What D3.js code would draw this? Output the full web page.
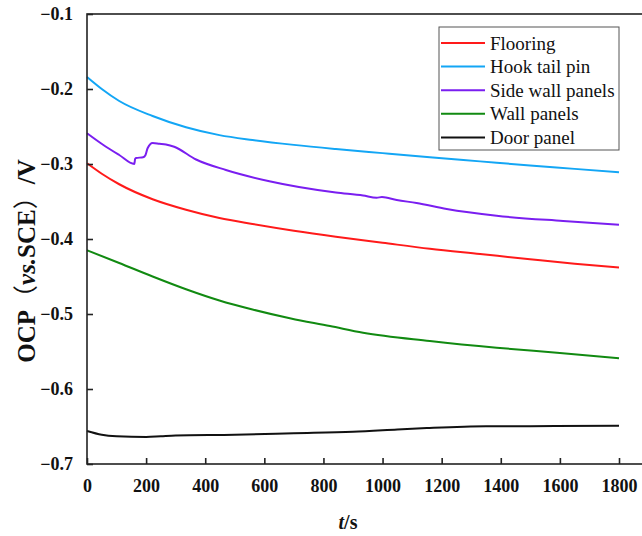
<!DOCTYPE html>
<html>
<head>
<meta charset="utf-8">
<script src="https://cdn.jsdelivr.net/npm/d3@7"></script>
<style>
  body { margin: 0; background: #fff; }
  svg text { font-family: "Liberation Serif", "Times New Roman", serif; }
</style>
</head>
<body>
<div id="chart"></div>
<script>
// series names and colours, in legend order
let seriesNames = ["Flooring", "Hook tail pin", "Side wall panels", "Wall panels", "Door panel"];
let seriesColors = ["#ff1a1a", "#13a6f5", "#7a1ef0", "#118a11", "#111111"];

// time (s) and OCP (V)
let flooringT = [0, 50, 109, 222, 335, 448, 560, 700, 842, 1000, 1160, 1330, 1499, 1650, 1800];
let flooringV = [-0.299, -0.313, -0.327, -0.347, -0.361, -0.372, -0.380, -0.389, -0.397, -0.405, -0.413, -0.420, -0.427, -0.433, -0.438];

let hookT = [0, 50, 109, 222, 335, 448, 560, 700, 842, 1000, 1160, 1330, 1499, 1650, 1800];
let hookV = [-0.184, -0.200, -0.216, -0.236, -0.251, -0.2615, -0.268, -0.2745, -0.280, -0.2855, -0.291, -0.2965, -0.302, -0.3065, -0.311];

let sideT = [0, 53, 109, 160, 163, 166, 190, 198, 205, 222, 245, 267, 295, 369, 470, 617, 842, 934, 980, 998, 1048, 1115, 1217, 1386, 1611, 1800];
let sideV = [-0.259, -0.274, -0.288, -0.300, -0.293, -0.292, -0.291, -0.288, -0.279, -0.272, -0.273, -0.274, -0.277, -0.294, -0.308, -0.323, -0.338, -0.342, -0.345, -0.344, -0.348, -0.352, -0.360, -0.369, -0.376, -0.381];

let wallT = [0, 109, 222, 335, 448, 560, 690, 822, 934, 1160, 1386, 1600, 1800];
let wallV = [-0.415, -0.432, -0.450, -0.467, -0.482, -0.494, -0.506, -0.516, -0.525, -0.536, -0.545, -0.552, -0.559];

let doorT = [0, 50, 100, 200, 250, 300, 500, 700, 900, 1050, 1150, 1350, 1500, 1800];
let doorV = [-0.656, -0.661, -0.663, -0.664, -0.663, -0.662, -0.661, -0.659, -0.657, -0.654, -0.652, -0.6495, -0.6495, -0.649];

let xTicks = [0, 200, 400, 600, 800, 1000, 1200, 1400, 1600, 1800];
let yTicks = [-0.7, -0.6, -0.5, -0.4, -0.3, -0.2, -0.1];

let seriesT = [flooringT, hookT, sideT, wallT, doorT];
let seriesV = [flooringV, hookV, sideV, wallV, doorV];

let W = 642, H = 536;
let plotLeft = 87, plotTop = 14, plotBottom = 464;

let svg = d3.select("#chart").append("svg")
    .attr("width", W).attr("height", H);

// x runs past the picture edge, so the right spine is cut off
let xScale = d3.scaleLinear().domain([0, 1900]).range([plotLeft, plotLeft + 1900 * (532 / 1800)]);
let yScale = d3.scaleLinear().domain([-0.7, -0.1]).range([plotBottom, plotTop]);

let xRight = xScale(1900);

// lines
let line = d3.line()
    .x(d => xScale(d[0]))
    .y(d => yScale(d[1]))
    .curve(d3.curveMonotoneX);

for (let i = 0; i < seriesNames.length; i++) {
    let pts = seriesT[i].map((t, j) => [t, seriesV[i][j]]);
    svg.append("path")
        .datum(pts)
        .attr("d", line)
        .attr("fill", "none")
        .attr("stroke", seriesColors[i])
        .attr("stroke-width", 2);
}

// frame
svg.append("rect")
    .attr("x", plotLeft).attr("y", plotTop)
    .attr("width", xRight - plotLeft).attr("height", plotBottom - plotTop)
    .attr("fill", "none").attr("stroke", "#222").attr("stroke-width", 1.6);

// axes, ticks point inward
let yaxis = svg.append("g")
    .attr("transform", "translate(" + plotLeft + ",0)")
    .call(d3.axisLeft(yScale).tickValues(yTicks).tickFormat(d3.format(".1f")).tickSizeInner(-6).tickSizeOuter(0).tickPadding(14));

let xaxis = svg.append("g")
    .attr("transform", "translate(0," + plotBottom + ")")
    .call(d3.axisBottom(xScale).tickValues(xTicks).tickFormat(d3.format("d")).tickSizeInner(-6).tickSizeOuter(0).tickPadding(12));

[xaxis, yaxis].forEach(ax => {
    ax.select(".domain").remove();
    ax.selectAll(".tick line").attr("stroke", "#222").attr("stroke-width", 1.6);
    ax.selectAll(".tick text")
        .attr("fill", "#111")
        .style("font-family", "'Liberation Serif', serif")
        .style("font-size", "18px")
        .style("font-weight", "bold");
});
xaxis.selectAll(".tick text").attr("dy", "0.9em");

// axis titles
let yt = svg.append("text")
    .attr("transform", "translate(35,261)rotate(-90)")
    .attr("text-anchor", "middle")
    .style("font-size", "25px")
    .style("font-weight", "bold")
    .attr("fill", "#111");
yt.append("tspan").text("OCP");
yt.append("tspan").style("font-family", "'Noto Sans CJK SC', sans-serif").style("font-weight", "normal").text("（");
yt.append("tspan").style("font-style", "italic").text("vs.");
yt.append("tspan").text("SCE");
yt.append("tspan").style("font-family", "'Noto Sans CJK SC', sans-serif").style("font-weight", "normal").text("）");
yt.append("tspan").text("/V");

let xt = svg.append("text")
    .attr("x", 348).attr("y", 529)
    .attr("text-anchor", "middle")
    .style("font-size", "20px")
    .style("font-weight", "bold")
    .attr("fill", "#111");
xt.append("tspan").style("font-style", "italic").text("t");
xt.append("tspan").text("/s");

// legend
let lg = svg.append("g");
lg.append("rect")
    .attr("x", 439).attr("y", 27)
    .attr("width", 180).attr("height", 123)
    .attr("fill", "#fff").attr("stroke", "#555").attr("stroke-width", 1);

seriesNames.forEach((name, i) => {
    let y = 43 + i * 23.6;
    lg.append("line")
        .attr("x1", 441).attr("x2", 485)
        .attr("y1", y).attr("y2", y)
        .attr("stroke", seriesColors[i]).attr("stroke-width", 2);
    lg.append("text")
        .attr("x", 490).attr("y", y)
        .attr("dy", "0.35em")
        .style("font-size", "19px")
        .attr("fill", "#111")
        .text(name);
});
</script>
</body>
</html>
